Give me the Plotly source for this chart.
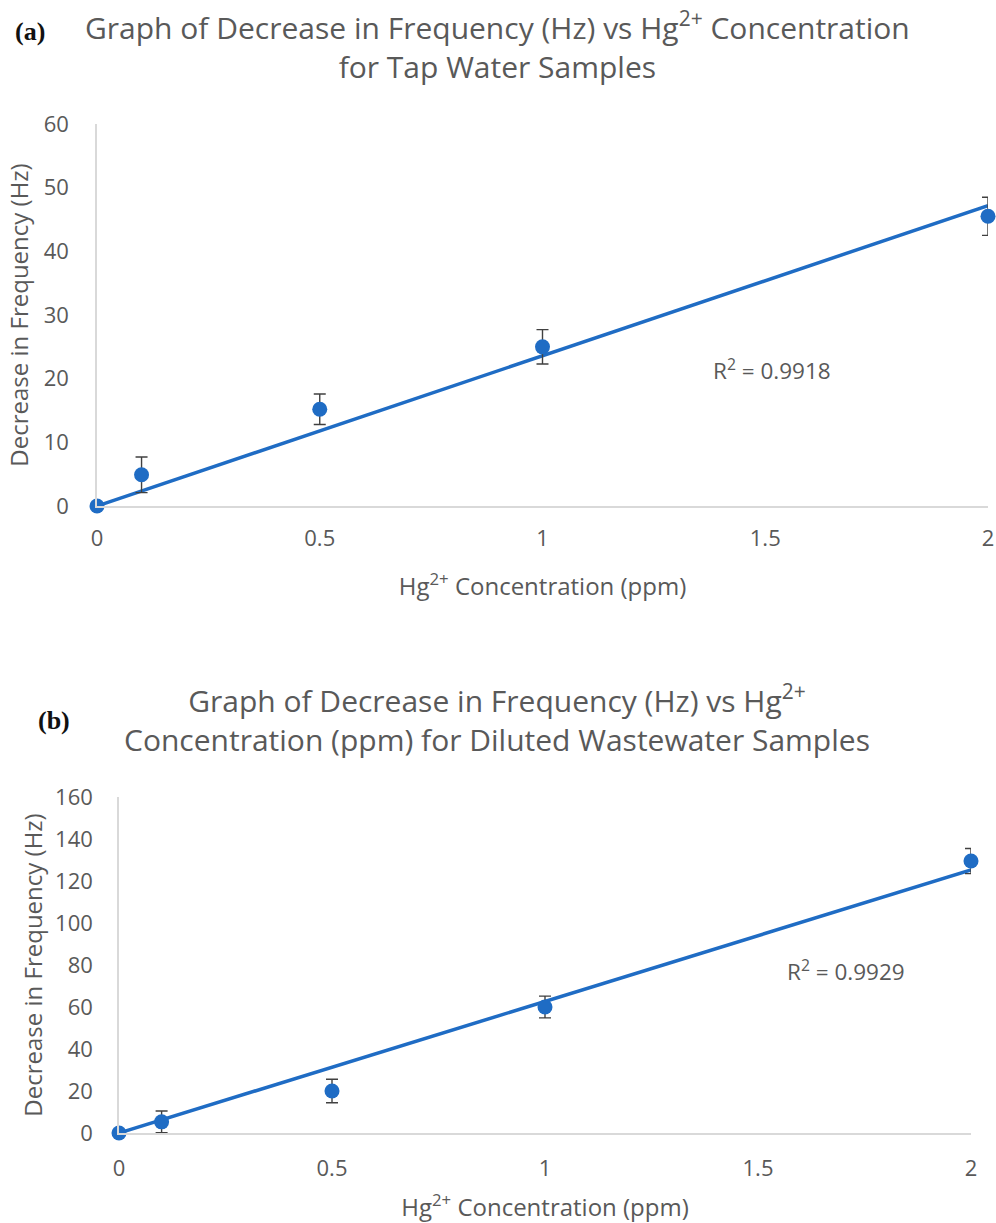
import numpy as np
import plotly.graph_objects as go

# ---- data ----
conc = [0, 0.1, 0.5, 1, 2]
tap_y = [0, 4.9, 15.2, 25.0, 45.5]
tap_err = [0, 2.8, 2.4, 2.7, 3.0]
waste_y = [0, 5.3, 20.0, 60.0, 129.5]
waste_err = [0, 5.2, 5.6, 5.2, 6.0]
r2_tap = "0.9918"
r2_waste = "0.9929"
x_ticks = [0, 0.5, 1, 1.5, 2]
x_tick_text = ["0", "0.5", "1", "1.5", "2"]
tap_y_ticks = [0, 10, 20, 30, 40, 50, 60]
waste_y_ticks = [0, 20, 40, 60, 80, 100, 120, 140, 160]

BLUE = "#1f6cc4"
GRAY = "#595959"
AXIS = "#d9d9d9"
FONT = "Open Sans"

W, H = 996, 1223


def fx(px):
    return px / W


def fy(py):
    return 1 - py / H


def fit_origin(x, y):
    x = np.asarray(x, float)
    y = np.asarray(y, float)
    return float((x * y).sum() / (x * x).sum())


fig = go.Figure()

for (ys, errs, xa, ya) in [(tap_y, tap_err, "x", "y"), (waste_y, waste_err, "x2", "y2")]:
    slope = fit_origin(conc, ys)
    xs_line = [min(conc), max(conc)]
    fig.add_trace(go.Scatter(
        x=xs_line, y=[slope * v for v in xs_line], mode="lines",
        line=dict(color=BLUE, width=3.5), xaxis=xa, yaxis=ya,
        showlegend=False, hoverinfo="skip", cliponaxis=False))
    fig.add_trace(go.Scatter(
        x=conc, y=ys, mode="markers",
        marker=dict(color=BLUE, size=15),
        error_y=dict(type="data", array=errs, visible=True,
                     color="#404040", thickness=1.4, width=6),
        xaxis=xa, yaxis=ya, showlegend=False, cliponaxis=False))

TICK = dict(family=FONT, size=22, color=GRAY)
TTL = dict(family=FONT, size=24, color=GRAY)
axis_common = dict(showgrid=False, zeroline=False, ticks="", automargin=False,
                   showline=True, linecolor=AXIS, linewidth=1.5, tickfont=TICK,
                   ticklabeloverflow="allow")

fig.update_layout(
    width=W, height=H,
    margin=dict(l=0, r=0, t=0, b=0),
    paper_bgcolor="white", plot_bgcolor="white",
    font=dict(family=FONT, color=GRAY),
    xaxis=dict(domain=[fx(97), fx(988)], range=[0, 2], anchor="y",
               tickvals=x_ticks, ticktext=x_tick_text, ticklabelstandoff=12,
               title=dict(text="Hg<sup>2+</sup> Concentration (ppm)", font=TTL, standoff=27),
               **axis_common),
    yaxis=dict(domain=[fy(506), fy(124)], range=[0, 60], anchor="x",
               tickvals=tap_y_ticks, ticklabelstandoff=22,
               title=dict(text="Decrease in Frequency (Hz)", font=TTL, standoff=8),
               **axis_common),
    xaxis2=dict(domain=[fx(119), fx(971)], range=[0, 2], anchor="y2",
                tickvals=x_ticks, ticktext=x_tick_text, ticklabelstandoff=15,
                title=dict(text="Hg<sup>2+</sup> Concentration (ppm)", font=TTL, standoff=25),
                **axis_common),
    yaxis2=dict(domain=[fy(1133), fy(797)], range=[0, 160], anchor="x2",
                tickvals=waste_y_ticks, ticklabelstandoff=20,
                title=dict(text="Decrease in Frequency (Hz)", font=TTL, standoff=6),
                **axis_common),
)

annotations = [
    dict(text="Graph of Decrease in Frequency (Hz) vs Hg<sup>2+</sup> Concentration<br>for Tap Water Samples",
         x=fx(497), y=fy(46), xref="paper", yref="paper", xanchor="center", yanchor="middle",
         showarrow=False, font=dict(family=FONT, size=30, color=GRAY)),
    dict(text="<b>(a)</b>", x=fx(13), y=fy(32), xref="paper", yref="paper",
         xanchor="left", yanchor="middle", showarrow=False,
         font=dict(family="Liberation Serif", size=26, color="#111111")),
    dict(text="Graph of Decrease in Frequency (Hz) vs Hg<sup>2+</sup><br>Concentration (ppm) for Diluted Wastewater Samples",
         x=fx(497), y=fy(718), xref="paper", yref="paper", xanchor="center", yanchor="middle",
         showarrow=False, font=dict(family=FONT, size=30, color=GRAY)),
    dict(text="<b>(b)</b>", x=fx(36), y=fy(720), xref="paper", yref="paper",
         xanchor="left", yanchor="middle", showarrow=False,
         font=dict(family="Liberation Serif", size=26, color="#111111")),
    dict(text="R<sup>2</sup> = " + r2_tap, x=1.516, y=21.4, xref="x", yref="y",
         showarrow=False, font=dict(family=FONT, size=22.5, color=GRAY)),
    dict(text="R<sup>2</sup> = " + r2_waste, x=1.707, y=77.6, xref="x2", yref="y2",
         showarrow=False, font=dict(family=FONT, size=22.5, color=GRAY)),
]
fig.update_layout(annotations=annotations)

fig.write_html(
    "out.html",
    config={"displayModeBar": False},
    post_script="document.body.style.margin='0';document.documentElement.style.overflow='hidden';",
)
